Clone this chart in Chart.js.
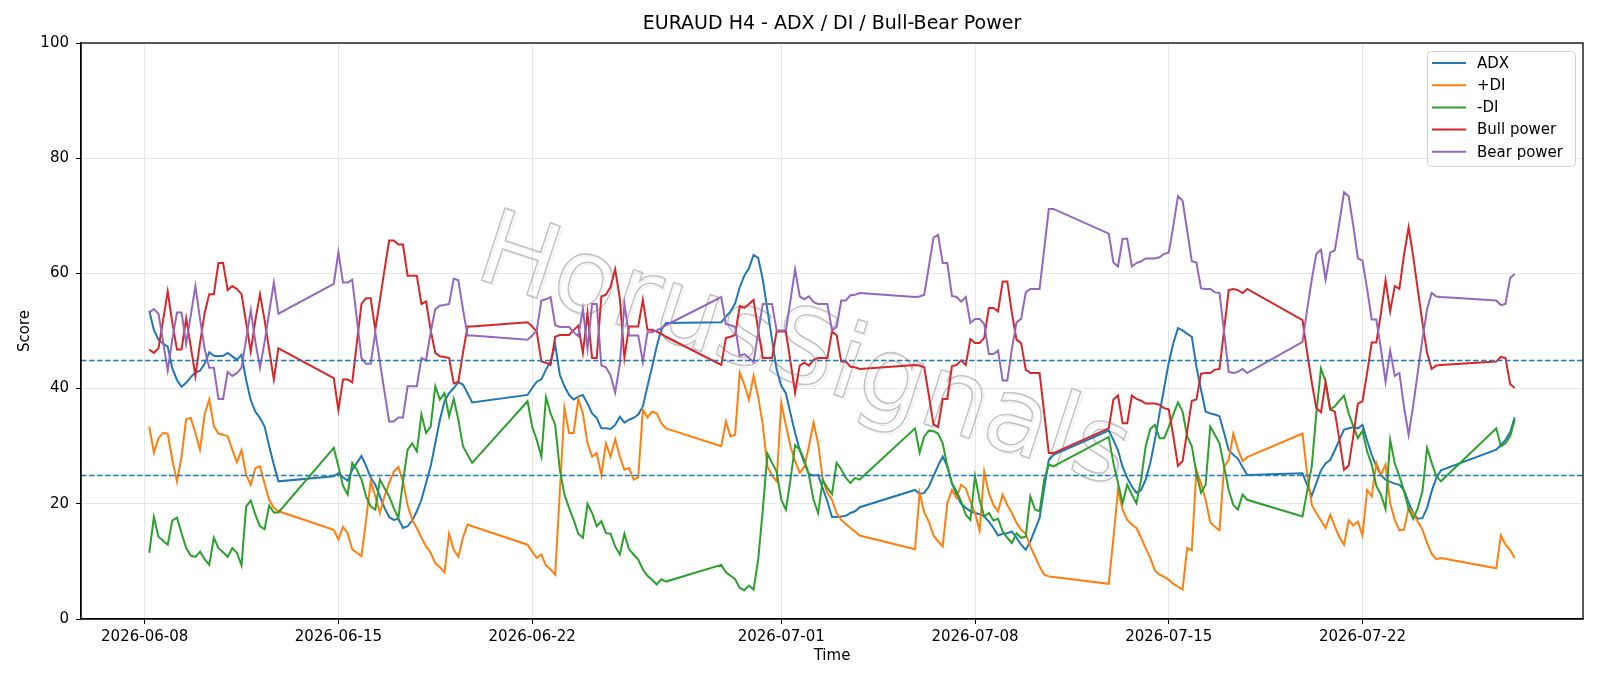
<!DOCTYPE html>
<html>
<head>
<meta charset="utf-8">
<title>EURAUD H4 - ADX / DI / Bull-Bear Power</title>
<script src="https://cdn.jsdelivr.net/npm/chart.js@4.4.1/dist/chart.umd.min.js"></script>
<style>
  html, body { margin: 0; padding: 0; background: #fff; }
  #chart { display: block; }
</style>
</head>
<body>
<canvas id="chart" width="1600" height="686"></canvas>
<script>
// Trading sessions (H4 bars, UTC), one row per week
const sessions = [
  ["2026-06-08T04:00Z", "2026-06-12T20:00Z"],
  ["2026-06-14T20:00Z", "2026-06-19T20:00Z"],
  ["2026-06-21T20:00Z", "2026-06-26T20:00Z"],
  ["2026-06-28T20:00Z", "2026-07-03T20:00Z"],
  ["2026-07-05T20:00Z", "2026-07-10T20:00Z"],
  ["2026-07-12T20:00Z", "2026-07-17T20:00Z"],
  ["2026-07-19T20:00Z", "2026-07-24T20:00Z"],
  ["2026-07-26T20:00Z", "2026-07-27T12:00Z"],
];

const tickDates = ["2026-06-08", "2026-06-15", "2026-06-22", "2026-07-01", "2026-07-08", "2026-07-15", "2026-07-22"];
const levels = [25, 45];

const adx = [
  53.5, 50.2, 48.5, 47.8, 47.3, 43.5, 41.5, 40.3, 41, 42, 42.8, 43.1, 44.3, 46.3, 45.7, 45.6, 45.7, 46.2, 45.6, 45, 45.9, 41.5, 38, 36, 34.9, 33.4, 30, 26.8, 23.9,
  24.8, 25.3, 24.6, 24, 25.9, 27.1, 28.3, 26.6, 24.5, 23.3, 21.3, 19.3, 17.7, 17.2, 17.4, 15.8, 16.1, 17.1, 18.7, 20.7, 23.6, 26.5, 30.5, 34.6, 37.8, 39.2, 40.1, 41.1, 40.7, 39.2, 37.6,
  38.9, 40.1, 41.2, 41.6, 43.3, 44.7, 47.6, 42.4, 40.4, 38.9, 38.1, 38.6, 38.9, 37.4, 35.7, 34.9, 33.1, 33.1, 33, 33.7, 35.1, 34.1, 34.6, 34.9, 35.5, 36.9, 40.4, 43.8, 47.3, 50.2, 51.4,
  51.5, 52.5, 53.4, 54.8, 57.6, 59.6, 60.9, 63.2, 62.7, 58.9, 53.7, 48.5, 43.3, 40.5, 39.2, 35.7, 32.3, 29.4, 27.1, 25.2, 24.9, 25, 22.7, 20.4, 17.7, 17.7, 17.8, 17.9, 18.4, 18.7, 19.4,
  22.4, 21.7, 21.9, 23, 24.8, 26.6, 28.2, 26.5, 23.6, 21.6, 20, 19.3, 18.7, 18.4, 18.2, 17.8, 16.9, 15.8, 14.5, 14.8, 14.9, 15.2, 14.1, 12.9, 12, 13.5, 15.5, 17.5, 22.7, 27.6, 28.5,
  32.7, 31.1, 29.3, 26.4, 24.5, 23, 21.9, 22.4, 24.2, 27.1, 31.1, 35.7, 40.1, 44.5, 47.9, 50.5, 50.1, 49.5, 49, 43.8, 39.8, 36, 35.7, 35.5, 35.2, 32.3, 29.3, 28.5, 27.8, 26.4, 25,
  25.3, 23.3, 21.4, 23.6, 25.8, 27, 27.6, 29.3, 31.1, 32.9, 33.1, 33.3, 33.1, 33.7, 31, 28.5, 26.5, 25, 24.2, 23.8, 23.5, 23.3, 22.4, 20.2, 18.4, 17.4, 17.5, 19.3, 22.2, 24.5, 25.8,
  29.4, 30.2, 31.1, 32.4, 35,
];

const plusDI = [
  33.4, 28.9, 31.4, 32.3, 32.2, 27.6, 23.9, 28.2, 34.7, 34.9, 32.3, 29.4, 35.5, 38.1, 33.5, 32.2, 32, 31.7, 29.4, 27.2, 29.3, 25, 23.3, 26.2, 26.5, 23.5, 20.7, 19.3, 18.7,
  15.5, 13.8, 16, 14.9, 12.1, 11.5, 10.9, 17.2, 23.9, 21.3, 18.4, 21.3, 23.6, 25.6, 26.4, 23.9, 19.8, 17.2, 15.8, 14.1, 12.6, 11.5, 9.7, 9, 8.1, 14.8, 12, 10.8, 14.1, 16.4, 16.1,
  12.9, 11.7, 10.6, 11.2, 9.3, 8.6, 7.7, 22, 36.6, 32.3, 32.3, 38.2, 35.7, 30.5, 28.2, 28.8, 25, 30.5, 28.2, 31.2, 28.2, 25.9, 26.2, 24.2, 24.6, 36.3, 35, 36, 35.7, 34, 33.1,
  30, 34.3, 31.7, 32, 42.8, 40.7, 38.1, 42.2, 38.6, 33.7, 26.5, 24.9, 23.9, 37.5, 33.7, 30, 27.4, 25.4, 26.4, 30, 34.1, 30.5, 24.2, 21.9, 20.7, 18.4, 17.2, 16.5, 15.8, 15.2, 14.5,
  12.1, 21.9, 18.5, 16.9, 14.5, 13.5, 12.6, 20.1, 22.4, 21, 23.3, 22.7, 20.4, 18.4, 15.4, 25.6, 21.9, 19.8, 18.7, 21.6, 19.8, 18.4, 16.7, 15.5, 14.8, 12.6, 10.9, 9.1, 7.7, 7.4, 7.3,
  6.1, 14, 22.4, 19, 17.2, 16.4, 15.8, 14.1, 12.3, 10.6, 8.4, 7.7, 7.3, 6.8, 6.1, 5.6, 5.1, 12.3, 11.9, 25.9, 23.5, 20.7, 16.8, 16, 15.4, 26.4, 27.6, 32.2, 29.5, 27.4, 28.1,
  32.2, 25.3, 19.8, 18.4, 17.1, 15.8, 18.1, 16.1, 14.2, 12.9, 17.1, 16.2, 16.9, 14.5, 22.4, 21.3, 27.1, 25, 26.8, 20.1, 17.2, 15.4, 15.5, 19.3, 18.4, 16.9, 15.5, 13.2, 11.3, 10.4, 10.6,
  8.8, 14.5, 12.9, 12, 10.6,
];

const minusDI = [
  11.5, 17.7, 14.3, 13.6, 12.9, 17.1, 17.6, 14.9, 12.3, 11, 10.8, 11.7, 10.4, 9.4, 14.1, 12.3, 11.6, 10.8, 12.3, 11.5, 9.3, 19.5, 20.6, 18.1, 16.1, 15.6, 19.7, 18.5, 18.5,
  29.7, 26.5, 23.1, 21.6, 27.1, 25.9, 24.2, 21.3, 19.5, 19, 24.2, 22.7, 21.3, 19.3, 17.5, 23.9, 29.4, 30.5, 29.1, 35.5, 32.3, 33.4, 40.4, 38.1, 39.2, 35.2, 38.2, 34.6, 30, 28.5, 27.1,
  37.8, 33.4, 31.1, 28.2, 38.5, 35.7, 33.7, 25.9, 21.6, 19.3, 17.2, 14.8, 14.1, 20, 18.4, 16.1, 17, 14.9, 14.8, 12.6, 11.2, 14.8, 12.1, 11.2, 10.3, 8.6, 7.5, 6.8, 6, 6.9, 6.5,
  9.4, 8.1, 7.5, 6.9, 5.4, 5, 5.8, 5.1, 10.3, 19, 28.7, 27.1, 25.6, 20.7, 19, 24.2, 30.2, 29.4, 27.6, 25, 20.7, 18.4, 24.2, 22.7, 21.7, 27.1, 26, 24.5, 23.6, 24.5, 24.2,
  33.1, 28.9, 31.7, 32.7, 32.6, 32.2, 30.5, 26.5, 23.5, 22.2, 20.4, 18.1, 17.2, 24.8, 20.7, 17.8, 18.4, 17.1, 17.4, 15.2, 14.1, 13.2, 14.9, 14.1, 14.3, 21.3, 19, 18.7, 24.2, 26.8, 26.5,
  31.6, 27.1, 23.6, 20.1, 23.3, 21.6, 20.1, 24.2, 30, 33, 33.7, 31.4, 31.4, 33.3, 35.5, 37.6, 36, 31.7, 30, 25.3, 21.9, 23.3, 33.4, 32, 30.5, 26.5, 22.4, 19.8, 19, 21.6, 20.7,
  17.8, 22.2, 26.5, 35.7, 43.5, 41.2, 36.4, 36.9, 37.9, 38.8, 35.7, 33.5, 31.4, 32.7, 29.1, 26.8, 23.1, 21.6, 19.1, 31.1, 27, 24.8, 22.2, 19.1, 17.4, 19.3, 22.2, 29.7, 27.1, 24.8, 23.9,
  33.1, 30, 30.5, 31.7, 34.6,
];

const bullPower = [
  46.8, 46.2, 47, 51.9, 56.9, 51.4, 46.8, 46.8, 52.2, 47.3, 42.2, 47.9, 53.1, 56.4, 56.4, 61.8, 61.8, 57.1, 57.8, 57.3, 56.4, 51.4, 46.4, 51.9, 56.4, 51.9, 46.7, 41.6, 47,
  41.8, 36.3, 41.6, 41.6, 41.1, 47.9, 54.7, 55.7, 55.7, 50.2, 55.4, 60.6, 65.7, 65.7, 65, 65, 59.6, 59.6, 59.6, 54.7, 55.1, 50.2, 46.2, 45.6, 45.5, 45.3, 40.9, 41.2, 46.2, 50.8, 50.8,
  51.5, 50.8, 49.9, 44.7, 44.5, 44.1, 49, 49.3, 49.3, 49.3, 50.2, 50.9, 46.2, 53.1, 45.3, 45.3, 56, 56.3, 57.7, 60.7, 55.7, 45.3, 50.8, 50.8, 50.8, 55.4, 50.2, 50.2, 49.9, 49.5, 49,
  44.1, 48.8, 49, 49.3, 54.3, 54, 54.7, 55.4, 50.2, 45.3, 45.3, 45.3, 49.9, 49.9, 49.9, 44.7, 39.3, 44, 44.5, 44, 45, 45.3, 45.3, 45.3, 49.9, 49.3, 44.7, 44.7, 43.8, 43.7, 43.4,
  44.1, 44, 43.7, 38.8, 33.8, 33.3, 38.2, 38.2, 43.9, 44.1, 44.9, 44.1, 48.6, 47.9, 47.9, 48.8, 54, 54, 53.4, 58.6, 58.6, 53.1, 48.5, 47.9, 43.3, 42.7, 42.7, 42.7, 35.8, 28.8, 28.8,
  33.1, 38.1, 38.8, 34, 34, 38.8, 38.2, 37.9, 37.4, 37.4, 37.4, 37.2, 36.6, 36.4, 31.7, 26.6, 27.4, 32.6, 37.9, 38.1, 42.6, 42.7, 42.7, 43.3, 43.4, 50.2, 57.1, 57.3, 57.1, 56.6, 57.3,
  51.9, 46.3, 41.1, 36.6, 35.9, 41.1, 36.4, 36, 31.1, 25.9, 26.6, 31.7, 37.4, 37.8, 42.7, 48, 48, 53.1, 58.8, 53.4, 57.8, 57.3, 63.2, 68, 62.9, 57.1, 51.4, 46.2, 43.4, 44, 44.1,
  44.7, 45.5, 45.3, 40.8, 40.1,
];

const bearPower = [
  53.2, 53.8, 53, 48.1, 43.1, 48.6, 53.2, 53.2, 47.8, 52.7, 57.8, 52.1, 46.9, 43.6, 43.6, 38.2, 38.2, 42.9, 42.2, 42.7, 43.6, 48.6, 53.6, 48.1, 43.6, 48.1, 53.3, 58.4, 53,
  58.2, 63.7, 58.4, 58.4, 58.9, 52.1, 45.3, 44.3, 44.3, 49.8, 44.6, 39.4, 34.3, 34.3, 35, 35, 40.4, 40.4, 40.4, 45.3, 44.9, 49.8, 53.8, 54.4, 54.5, 54.7, 59.1, 58.8, 53.8, 49.2, 49.2,
  48.5, 49.2, 50.1, 55.3, 55.5, 55.9, 51, 50.7, 50.7, 50.7, 49.8, 49.1, 53.8, 46.9, 54.7, 54.7, 44, 43.7, 42.3, 39.3, 44.3, 54.7, 49.2, 49.2, 49.2, 44.6, 49.8, 49.8, 50.1, 50.5, 51,
  55.9, 51.2, 51, 50.7, 45.7, 46, 45.3, 44.6, 49.8, 54.7, 54.7, 54.7, 50.1, 50.1, 50.1, 55.3, 60.7, 56, 55.5, 56, 55, 54.7, 54.7, 54.7, 50.1, 50.7, 55.3, 55.3, 56.2, 56.3, 56.6,
  55.9, 56, 56.3, 61.2, 66.2, 66.7, 61.8, 61.8, 56.1, 55.9, 55.1, 55.9, 51.4, 52.1, 52.1, 51.2, 46, 46, 46.6, 41.4, 41.4, 46.9, 51.5, 52.1, 56.7, 57.3, 57.3, 57.3, 64.2, 71.2, 71.2,
  66.9, 61.9, 61.2, 66, 66, 61.2, 61.8, 62.1, 62.6, 62.6, 62.6, 62.8, 63.4, 63.6, 68.3, 73.4, 72.6, 67.4, 62.1, 61.9, 57.4, 57.3, 57.3, 56.7, 56.6, 49.8, 42.9, 42.7, 42.9, 43.4, 42.7,
  48.1, 53.7, 58.9, 63.4, 64.1, 58.9, 63.6, 64, 68.9, 74.1, 73.4, 68.3, 62.6, 62.2, 57.3, 52, 52, 46.9, 41.2, 46.6, 42.2, 42.7, 36.8, 32, 37.1, 42.9, 48.6, 53.8, 56.6, 56, 55.9,
  55.3, 54.5, 54.7, 59.2, 59.9,
];

// timestamps of each H4 bar
const H4 = 4 * 3600 * 1000;
const times = [];
sessions.forEach(([a, b]) => {
  for (let t = Date.parse(a); t <= Date.parse(b); t += H4) times.push(t);
});

const pts = (vals) => vals.map((v, i) => ({ x: times[i], y: v }));
const t0 = times[0];
const t1 = times[times.length - 1];
const margin = (t1 - t0) * 0.05;

Chart.defaults.font.family = "'DejaVu Sans', sans-serif";
Chart.defaults.color = "#000";

const FONT = { family: "'DejaVu Sans', sans-serif", size: 15 };

// matplotlib-like extras: watermark, level lines, frame, legend
const extras = {
  id: "extras",
  beforeDatasetsDraw(chart) {
    const { ctx } = chart;
    ctx.save();
    ctx.translate(803, 356);
    ctx.rotate((18 * Math.PI) / 180);
    ctx.font = "104px 'DejaVu Sans'";
    ctx.textAlign = "center";
    ctx.textBaseline = "middle";
    ctx.shadowColor = "rgba(0,0,0,0.10)";
    ctx.shadowOffsetX = 2;
    ctx.shadowOffsetY = 2;
    ctx.lineWidth = 1.5;
    ctx.strokeStyle = "rgba(145,145,145,0.55)";
    ctx.strokeText("HorusSignals", 0, 0);
    ctx.restore();
  },
  afterDatasetsDraw(chart) {
    const { ctx, chartArea } = chart;
    const y = chart.scales.y;
    ctx.save();
    ctx.strokeStyle = "#1f77b4";
    ctx.lineWidth = 1.5;
    ctx.setLineDash([5.5, 2.5]);
    levels.forEach((lv) => {
      const py = Math.round(y.getPixelForValue(lv)) + 0.5;
      ctx.beginPath();
      ctx.moveTo(chartArea.left, py);
      ctx.lineTo(chartArea.right, py);
      ctx.stroke();
    });
    ctx.restore();
  },
  afterDraw(chart) {
    const { ctx, chartArea } = chart;
    ctx.save();
    ctx.strokeStyle = "#000";
    ctx.lineWidth = 1.3;
    ctx.strokeRect(chartArea.left, chartArea.top, chartArea.right - chartArea.left, chartArea.bottom - chartArea.top);

    // legend
    ctx.font = "15px 'DejaVu Sans'";
    const sets = chart.data.datasets;
    const textW = Math.max(...sets.map((d) => ctx.measureText(d.label).width));
    const rowH = 22.2;
    const w = 5 + 34 + 11 + textW + 12;
    const h = 12 + (sets.length - 1) * rowH + 14;
    const x = chartArea.right - 8 - w;
    const top = chartArea.top + 8;
    ctx.beginPath();
    ctx.roundRect(x + 0.5, top + 0.5, w, h, 4);
    ctx.fillStyle = "rgba(255,255,255,0.8)";
    ctx.fill();
    ctx.strokeStyle = "#d0d0d0";
    ctx.lineWidth = 1;
    ctx.stroke();
    ctx.textBaseline = "middle";
    ctx.textAlign = "left";
    sets.forEach((d, i) => {
      const cy = top + 12 + i * rowH;
      ctx.strokeStyle = d.borderColor;
      ctx.lineWidth = 2;
      ctx.beginPath();
      ctx.moveTo(x + 5, cy);
      ctx.lineTo(x + 39, cy);
      ctx.stroke();
      ctx.fillStyle = "#000";
      ctx.fillText(d.label, x + 50, cy + 1);
    });
    ctx.restore();
  },
};

const chartData = {
  datasets: [
    { label: "ADX", data: pts(adx), borderColor: "#1f77b4", order: 5 },
    { label: "+DI", data: pts(plusDI), borderColor: "#ff7f0e", order: 4 },
    { label: "-DI", data: pts(minusDI), borderColor: "#2ca02c", order: 3 },
    { label: "Bull power", data: pts(bullPower), borderColor: "#d62728", order: 2 },
    { label: "Bear power", data: pts(bearPower), borderColor: "#9467bd", order: 1 },
  ],
};

const config = {
  type: "line",
  data: chartData,
  options: {
    responsive: false,
    animation: false,
    devicePixelRatio: 1,
    layout: { padding: { left: 0, right: 17, top: 0, bottom: 0 } },
    elements: {
      line: { borderWidth: 2, tension: 0, fill: false },
      point: { radius: 0 },
    },
    plugins: {
      legend: { display: false },
      tooltip: { enabled: false },
      title: {
        display: true,
        fullSize: false,
        text: "EURAUD H4 - ADX / DI / Bull-Bear Power",
        color: "#000",
        font: { family: FONT.family, size: 19, weight: "normal" },
        padding: { top: 13, bottom: 7.2 },
      },
    },
    scales: {
      x: {
        type: "linear",
        min: t0 - margin,
        max: t1 + margin,
        afterBuildTicks: (s) => {
          s.ticks = tickDates.map((d) => ({ value: Date.parse(d + "T00:00Z") }));
        },
        afterFit: (s) => {
          s.height = 67;
        },
        ticks: {
          font: FONT,
          color: "#000",
          padding: 4,
          maxRotation: 0,
          autoSkip: false,
          callback: (v) => new Date(v).toISOString().slice(0, 10),
        },
        grid: { color: "#e6e6e6", lineWidth: 1, tickColor: "#000", tickLength: 5 },
        border: { display: true, color: "#000", width: 1.3 },
        title: { display: true, text: "Time", font: FONT, color: "#000", padding: { top: 0, bottom: 21 } },
      },
      y: {
        min: 0,
        max: 100,
        afterFit: (s) => {
          s.width = 81;
        },
        ticks: { stepSize: 20, font: FONT, color: "#000", padding: 7 },
        grid: { color: "#e6e6e6", lineWidth: 1, tickColor: "#000", tickLength: 5 },
        border: { display: true, color: "#000", width: 1.3 },
        title: { display: true, text: "Score", font: FONT, color: "#000", padding: { top: 16.5, bottom: 0 } },
      },
    },
  },
  plugins: [extras],
};

const chart = new Chart(document.getElementById("chart"), config);
</script>
</body>
</html>
